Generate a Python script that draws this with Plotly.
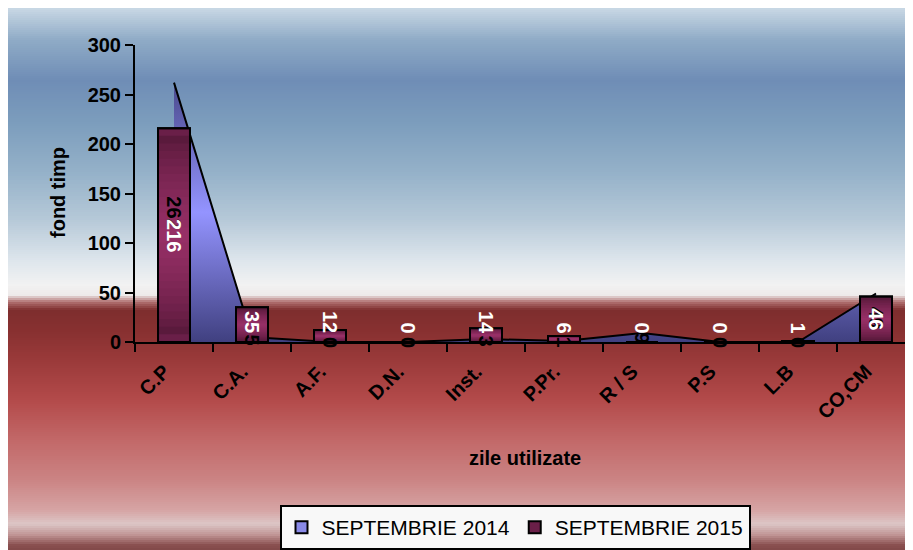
import plotly.graph_objects as go

categories = ["C.P", "C.A.", "A.F.", "D.N.", "Inst.", "P.Pr.", "R / S", "P.S", "L.B", "CO,CM"]
sep2014 = [262, 5, 0, 0, 3, 1, 9, 0, 0, 49]
sep2015 = [216, 35, 12, 0, 14, 6, 0, 0, 1, 46]
y_ticks = [0, 50, 100, 150, 200, 250, 300]

W, H = 913, 550
OFF = 8  # page body margin
ML, MT, PW, PH = 127, 37, 780, 297
MR = W - ML - PW
MB = H - MT - PH
YMAX = 300
ppu = PH / YMAX

FONT = "Liberation Sans, Arial, sans-serif"

def wx(px):  # window pixel x -> paper
    return (px - OFF - ML) / PW

def wy(py):  # window pixel y -> paper
    return (MT + PH - (py - OFF)) / PH

# background gradient stops (window pixel y, colour)
bg_stops = [
    (8, "#c9d8e5"), (40, "#8fabc6"), (80, "#6f8db6"), (120, "#7b9cbc"),
    (170, "#93b0c8"), (220, "#b6c9d8"), (260, "#dde5ec"), (285, "#f2f2f2"),
    (295, "#eeeaea"), (302, "#b07070"), (310, "#7e2e2e"), (330, "#873030"),
    (360, "#9a3a3a"), (400, "#b34a4a"), (440, "#c26868"), (480, "#cb8484"),
    (510, "#d6a4a4"), (524, "#dcc6c6"), (535, "#c09494"), (545, "#8a5050"),
    (560, "#703838"),
]

def hex2rgb(h):
    h = h.lstrip("#")
    return tuple(int(h[i:i + 2], 16) for i in (0, 2, 4))

def mix(c0, c1, t):
    a, b = hex2rgb(c0), hex2rgb(c1)
    return "#%02x%02x%02x" % tuple(round(a[i] + (b[i] - a[i]) * t) for i in range(3))

def interp(py):
    for (y0, c0), (y1, c1) in zip(bg_stops[:-1], bg_stops[1:]):
        if y0 <= py <= y1:
            t = (py - y0) / (y1 - y0) if y1 > y0 else 0
            return mix(c0, c1, t)
    return bg_stops[-1][1]

shapes = []
step = 2
py = bg_stops[0][0]
while py < bg_stops[-1][0]:
    shapes.append(dict(
        type="rect", xref="paper", yref="paper", layer="below",
        x0=wx(OFF - 2), x1=wx(W + OFF + 2),
        y0=wy(py), y1=wy(py + step + 0.5),
        fillcolor=interp(py + step / 2), line=dict(width=0),
    ))
    py += step

fig = go.Figure()

# Series 2014 as area (base axes, drawn underneath the bars)
fig.add_trace(go.Scatter(
    x=categories, y=sep2014, name="SEPTEMBRIE 2014", mode="lines",
    line=dict(color="black", width=2),
    fill="tozeroy", fillcolor="#8a8ae8",
    fillgradient=dict(type="vertical", start=0, stop=max(sep2014),
                      colorscale=[[0, "#404080"], [0.5, "#9494ff"], [1, "#4a4a8c"]]),
    hoverinfo="skip", showlegend=False,
))
# legend entry (square swatch) for 2014
fig.add_trace(go.Bar(
    x=[None], y=[None], name="SEPTEMBRIE 2014",
    marker=dict(color="#8a8ae8", line=dict(color="black", width=2)),
    xaxis="x2", yaxis="y2", hoverinfo="skip",
))

# Series 2015 as bars with banded vertical gradient (overlay axes, on top)
bar_w = 0.41
dark, light = "#4a1430", "#962f66"
n_layers = 14
for i in range(n_layers):
    h = 1 - i / n_layers
    t = (i / (n_layers - 1)) ** 0.6
    col = mix(dark, light, t)
    fig.add_trace(go.Bar(
        x=categories, y=[v * h for v in sep2015],
        base=[v * (1 - h) / 2 for v in sep2015],
        width=bar_w, name="SEPTEMBRIE 2015", showlegend=(i == 0),
        marker=dict(color=col if i else "#6a1f48",
                    line=dict(color="black", width=2 if i == 0 else 0)),
        xaxis="x2", yaxis="y2", hoverinfo="skip",
    ))
fig.add_trace(go.Bar(
    x=categories, y=sep2015, width=bar_w, showlegend=False,
    marker=dict(color="rgba(0,0,0,0)", line=dict(color="black", width=2)),
    xaxis="x2", yaxis="y2", hoverinfo="skip",
))

LBL = 20
annotations = []
for c, v in zip(categories, sep2014):
    annotations.append(dict(
        x=c, y=0, xref="x", yref="y", text=str(v), showarrow=False,
        textangle=90, yshift=v / 2 * ppu, xanchor="center", yanchor="middle",
        font=dict(family=FONT, size=LBL, color="black", weight="bold"),
    ))
for c, v in zip(categories, sep2015):
    s = str(v)
    annotations.append(dict(
        x=c, y=0, xref="x", yref="y", text=s, showarrow=False,
        textangle=90, yshift=max(v / 2 * ppu, 9 + 5.5 * len(s)),
        xanchor="center", yanchor="middle",
        font=dict(family=FONT, size=LBL, color="white", weight="bold"),
    ))
annotations.append(dict(
    x=wx(58), y=wy(193), xref="paper", yref="paper",
    xanchor="center", yanchor="middle",
    text="fond timp", textangle=-90, showarrow=False,
    font=dict(family=FONT, size=20, color="black", weight="bold"),
))
annotations.append(dict(
    x=wx(525), y=wy(458), xref="paper", yref="paper",
    xanchor="center", yanchor="middle",
    text="zile utilizate", showarrow=False,
    font=dict(family=FONT, size=20, color="black", weight="bold"),
))

axis_common = dict(showgrid=False, zeroline=False)
fig.update_layout(
    width=W, height=H,
    margin=dict(l=ML, r=MR, t=MT, b=MB, autoexpand=False),
    paper_bgcolor="white", plot_bgcolor="rgba(0,0,0,0)",
    barmode="overlay",
    shapes=shapes, annotations=annotations,
    showlegend=True,
    legend=dict(
        orientation="h", x=wx(515), xanchor="center",
        y=wy(505), yanchor="top",
        bgcolor="#f8f8f8", bordercolor="black", borderwidth=2,
        font=dict(family=FONT, size=21, color="black"),
        traceorder="normal", itemwidth=30,
    ),
    xaxis=dict(
        type="category", categoryarray=categories, categoryorder="array",
        range=[-0.5, len(categories) - 0.5],
        showline=True, linecolor="black", linewidth=2,
        ticks="outside", ticklen=8, tickwidth=2, tickcolor="black",
        tickson="boundaries", tickangle=-45,
        ticklabelshift=-10, ticklabelstandoff=8,
        tickfont=dict(family=FONT, size=20, color="black", weight="bold"),
        **axis_common,
    ),
    yaxis=dict(
        range=[0, YMAX], tickvals=y_ticks,
        showline=True, linecolor="black", linewidth=2,
        ticks="outside", ticklen=8, tickwidth=2, tickcolor="black",
        tickfont=dict(family=FONT, size=20, color="black", weight="bold"),
        **axis_common,
    ),
    xaxis2=dict(
        type="category", categoryarray=categories, categoryorder="array",
        range=[-0.5, len(categories) - 0.5], overlaying="x", visible=False,
        **axis_common,
    ),
    yaxis2=dict(range=[0, YMAX], overlaying="y", visible=False, **axis_common),
)

fig.write_html("out.html")
